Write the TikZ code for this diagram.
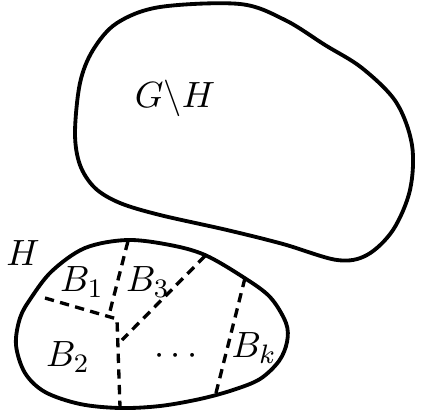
\documentclass[tikz,border=0pt]{standalone}
\begin{document}
\begin{tikzpicture}[x=0.3pt,y=-0.3pt,
  blob/.style={line width=1.15pt,line join=round},
  sep/.style={line width=1pt,dash pattern=on 2.8pt off 1.9pt},
  lab/.style={inner sep=0pt,font=\fontsize{11.3}{13}\selectfont}]
\useasboundingbox (0,0) rectangle (421,412);
% G \ H
\draw[blob] plot[smooth cycle,tension=0.55] coordinates {
 (240,4) (160,7) (117,23) (93,50) (80,83) (75,133) (80,165) (95,188)
 (120,203) (160,215) (227,230) (283,244) (337,260) (367,255) (393,230)
 (410,190) (412,145) (396,102) (362,68) (325,45) (285,20)};
\node[lab] (gh) at (175,98) {$G\backslash H$};
% H
\draw[blob] plot[smooth cycle,tension=0.55] coordinates {
 (127,240) (170,245) (205,255) (243,277) (270,297) (286,323) (287,342)
 (279,361) (260,379) (233,390) (200,399) (160,406) (120,408) (80,404)
 (45,392) (25,373) (16,345) (20,318) (31,298) (52,271) (85,248)};
\node[lab] (h) at (23,253) {$H$};
% separators
\coordinate (j) at (117,319);
\draw[sep] (128,241) -- (109,315);
\draw[sep] (45,298) -- (j) -- (120,407);
\draw[sep] (205,256) -- (122,340);
\draw[sep] (245,278) -- (216,393);
\node[lab] (b1) at (82,282) {$B_1$};
\node[lab] (b3) at (148,282) {$B_3$};
\node[lab] (b2) at (68,357) {$B_2$};
\node[lab] (dots) at (176,356) {$\cdots$};
\node[lab] (bk) at (254,348) {$B_k$};
\end{tikzpicture}
\end{document}
